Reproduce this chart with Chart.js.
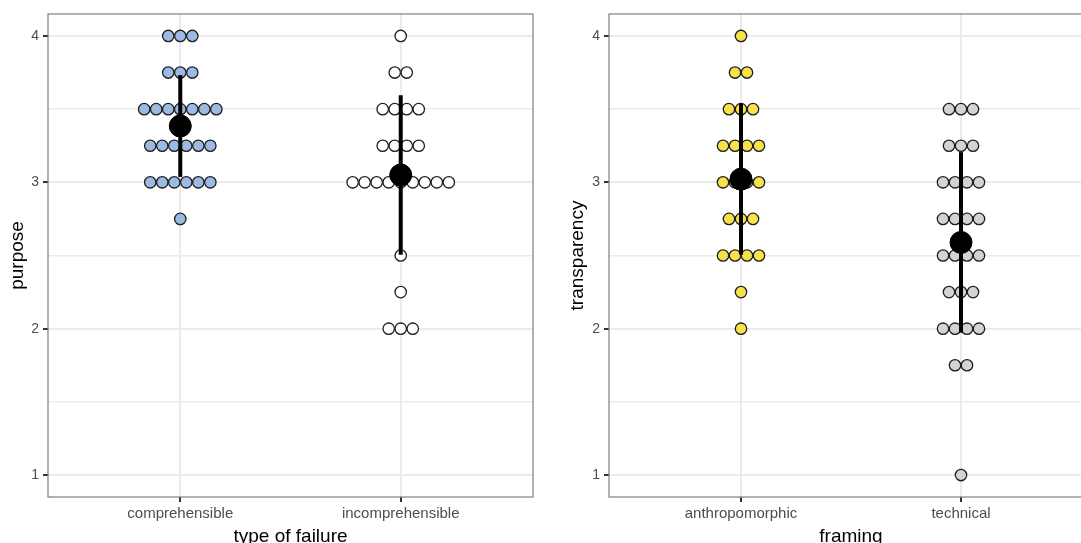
<!DOCTYPE html>
<html>
<head>
<meta charset="utf-8">
<script src="https://cdn.jsdelivr.net/npm/chart.js@4.4.1/dist/chart.umd.min.js"></script>
<style>
  html, body { margin: 0; padding: 0; background: #fff; }
  #wrap { position: relative; width: 1081px; height: 543px; overflow: hidden; }
  canvas { position: absolute; top: 0; }
</style>
</head>
<body>
<div id="wrap">
  <canvas id="left" width="550" height="560" style="left:0px"></canvas>
  <canvas id="right" width="560" height="560" style="left:550px"></canvas>
</div>
<script>
// response levels (likert averages), top to bottom
const levels = [4, 3.75, 3.5, 3.25, 3, 2.75, 2.5, 2.25, 2, 1.75, 1.5, 1.25, 1];

// left panel: purpose by type of failure (number of people at each level)
const failureCategories = ["comprehensible", "incomprehensible"];
const comprehensibleCounts   = [3, 3, 7, 6, 6, 1, 0, 0, 0, 0, 0, 0, 0];
const incomprehensibleCounts = [1, 2, 4, 4, 9, 0, 1, 1, 3, 0, 0, 0, 0];

// right panel: transparency by framing
const framingCategories = ["anthropomorphic", "technical"];
const anthropomorphicCounts = [1, 2, 3, 4, 4, 3, 4, 1, 1, 0, 0, 0, 0];
const technicalCounts       = [0, 0, 3, 3, 4, 4, 4, 3, 4, 2, 0, 0, 1];

const yTicks = [1, 1.5, 2, 2.5, 3, 3.5, 4];

const FONT = "'Liberation Sans', Arial, Helvetica, sans-serif";
const BIN = 12 / 220; // width of one dot in x units

function stats(counts) {
  let n = 0, sum = 0;
  counts.forEach((c, i) => { n += c; sum += c * levels[i]; });
  const mean = sum / n;
  let ss = 0;
  counts.forEach((c, i) => { ss += c * (levels[i] - mean) ** 2; });
  return { mean: mean, sd: Math.sqrt(ss / (n - 1)) };
}

// stack the dots of each level side by side, centred on the category
function dots(counts, xPos) {
  const pts = [];
  counts.forEach((c, i) => {
    for (let k = 0; k < c; k++) {
      pts.push({ x: xPos + (k - (c - 1) / 2) * BIN, y: levels[i] });
    }
  });
  return pts;
}

const panelBorder = {
  id: "panelBorder",
  afterDatasetsDraw(chart) {
    const { ctx, chartArea: a } = chart;
    ctx.save();
    ctx.strokeStyle = "#7f7f7f";
    ctx.lineWidth = 1.2;
    ctx.strokeRect(a.left, a.top, a.right - a.left, a.bottom - a.top);
    ctx.restore();
  }
};

function makePanel(id, categories, groups, fills, yTitle, xTitle, yWidth, yTitlePad) {
  const datasets = [];
  groups.forEach((counts, g) => {
    datasets.push({
      data: dots(counts, g + 1),
      backgroundColor: fills[g],
      borderColor: "#1e1e1e",
      borderWidth: 1.3,
      pointRadius: 5.7,
      order: 3
    });
    const s = stats(counts);
    datasets.push({
      data: [{ x: g + 1, y: s.mean - s.sd }, { x: g + 1, y: s.mean + s.sd }],
      showLine: true,
      borderColor: "#000",
      borderWidth: 4,
      pointRadius: 0,
      order: 2
    });
    datasets.push({
      data: [{ x: g + 1, y: s.mean }],
      backgroundColor: "#000",
      borderColor: "#000",
      pointRadius: 11,
      order: 1
    });
  });

  return new Chart(document.getElementById(id), {
    type: "scatter",
    data: { datasets: datasets },
    options: {
      responsive: false,
      animation: false,
      events: [],
      layout: { padding: { top: 14, right: 17, left: 0, bottom: 0 } },
      plugins: { legend: { display: false }, tooltip: { enabled: false } },
      scales: {
        x: {
          type: "linear",
          min: 0.4,
          max: 2.6,
          afterBuildTicks: (s) => { s.ticks = categories.map((c, i) => ({ value: i + 1 })); },
          afterFit: (s) => { s.height = 63; },
          ticks: {
            callback: (v) => categories[v - 1],
            color: "#4d4d4d",
            font: { family: FONT, size: 15 },
            padding: 3,
            maxRotation: 0,
            autoSkip: false
          },
          grid: { color: "#ebebeb", lineWidth: 2, tickLength: 5, tickColor: "#333" },
          border: { display: false },
          title: {
            display: true,
            text: xTitle,
            color: "#000",
            font: { family: FONT, size: 19 },
            padding: { top: 0, bottom: 12 }
          }
        },
        y: {
          min: 0.85,
          max: 4.15,
          afterBuildTicks: (s) => { s.ticks = yTicks.map((v) => ({ value: v })); },
          afterFit: (s) => { s.width = yWidth; },
          ticks: {
            callback: (v) => (Number.isInteger(v) ? String(v) : ""),
            color: "#4d4d4d",
            font: { family: FONT, size: 14 },
            padding: 4,
            autoSkip: false
          },
          grid: {
            color: "#ebebeb",
            lineWidth: (c) => (Number.isInteger(c.tick.value) ? 2 : 1.5),
            tickLength: 5,
            tickColor: (c) => (Number.isInteger(c.tick.value) ? "#333" : "rgba(0,0,0,0)")
          },
          border: { display: false },
          title: {
            display: true,
            text: yTitle,
            color: "#000",
            font: { family: FONT, size: 19 },
            padding: { top: yTitlePad, bottom: 0 }
          }
        }
      }
    },
    plugins: [panelBorder]
  });
}

makePanel("left", failureCategories,
  [comprehensibleCounts, incomprehensibleCounts],
  ["#9bbbe4", "#ffffff"], "purpose", "type of failure", 48, 6);

makePanel("right", framingCategories,
  [anthropomorphicCounts, technicalCounts],
  ["#f8e14b", "#d3d3d3"], "transparency", "framing", 59, 16);
</script>
</body>
</html>
